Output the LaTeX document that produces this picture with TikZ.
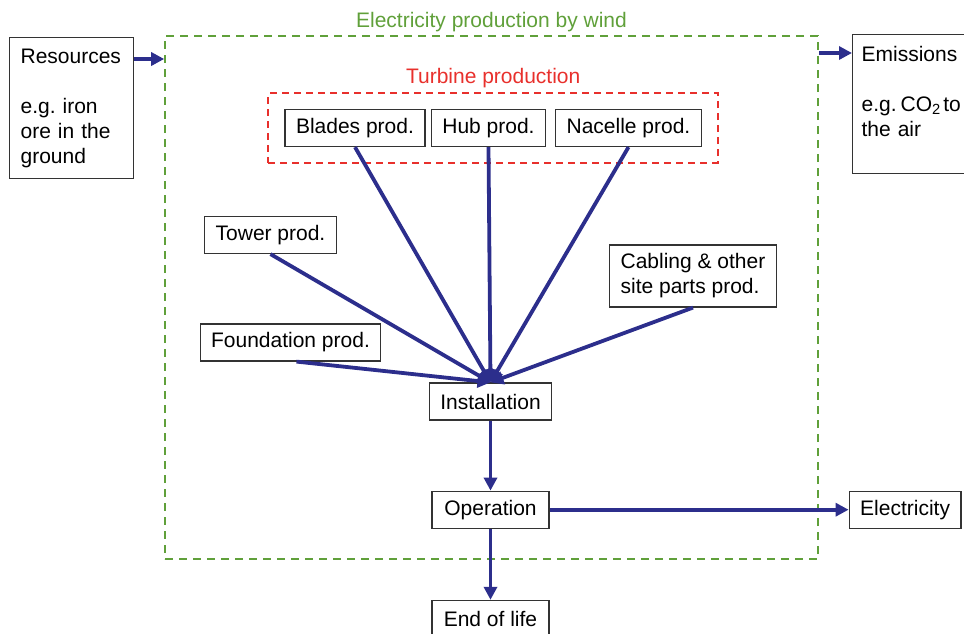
\documentclass[tikz,border=0pt]{standalone}
\usepackage{fontspec}
\setmainfont{Liberation Sans}
\usetikzlibrary{positioning,arrows.meta,fit}
\definecolor{flowblue}{RGB}{44,46,140}
\definecolor{windgreen}{RGB}{96,160,58}
\definecolor{turbred}{RGB}{232,48,44}

\begin{document}
\begin{tikzpicture}[
      x=0.5pt, y=-0.5pt,
      font=\fontsize{10.5}{12.5}\selectfont,
      stage/.style={draw=black!80, line width=0.6pt, fill=white,
                    minimum height=18.5pt, inner xsep=5.5pt, inner ysep=2pt},
      flowbox/.style={stage, align=left, text width=51pt, inner sep=5.5pt,
                      anchor=north west},
      wind/.style={draw=windgreen, line width=0.8pt, dash pattern=on 4pt off 3pt},
      turb/.style={draw=turbred, line width=1pt, dash pattern=on 3.5pt off 2.5pt},
      flow/.style={-{Triangle[length=6.5pt,width=6.5pt]}, line width=1.9pt, flowblue}
    ]
    \useasboundingbox (0,0) rectangle (964,633);

    \node[wind, minimum width=326.5pt, minimum height=261.5pt,
          label={[text=windgreen, yshift=-2pt]above:Electricity production by wind}]
          (windsys) at (491.5,297.5) {};

    \node[flowbox, minimum height=70.5pt] (res) at (9,37)
      {Resources\\[12.5pt]e.g.\ iron\\ore in the\\ground};
    \node[flowbox, minimum height=69.5pt, text width=62pt, inner xsep=4.5pt] (emis) at (852,34)
      {Emissions\\[12.5pt]e.g.\kern2pt CO\textsubscript{2}\kern1pt to\\the air\\\mbox{}};

    \node[stage] (blades) at (355,128) {Blades prod.};
    \node[stage] (hub) at (488.5,128) {Hub prod.};
    \node[stage] (nacelle) at (628.5,128) {Nacelle prod.};
    \node[turb, fit=(blades)(hub)(nacelle), inner xsep=8pt, inner ysep=7.75pt,
          label={[text=turbred, yshift=-1.5pt]above:Turbine production}] (turbine) {};

    \node[stage] (tower) at (270.5,235) {Tower prod.};
    \node[stage, align=left, minimum height=31pt] (cabling) at (693,276)
      {Cabling \& other\\site parts prod.};
    \node[stage] (found) at (290.5,342.5) {Foundation prod.};

    \node[stage] (inst) at (490.5,401.5) {Installation};
    \node[stage, minimum width=58.5pt, below=35pt of inst] (oper) {Operation};
    \node[stage, minimum width=58.5pt, below=35.5pt of oper] (eol) {End of life};
    \node[stage, right=149.5pt of oper] (elec) {Electricity};

    \foreach \x in {blades, hub, nacelle, tower, cabling}
      {\draw[flow] (\x.south) -- (inst.north);}
    \draw[flow] ([xshift=3pt]found.south) -- (inst.north);

    \foreach \x/\y in {inst/oper, oper/eol, oper/elec} {\draw[flow] (\x) -- (\y);}

    \coordinate (resout) at ([yshift=-11pt]res.north east);
    \draw[flow] (resout) -- (resout -| windsys.west);
    \coordinate (emisin) at ([yshift=-9.5pt]emis.north west);
    \draw[flow] (emisin -| windsys.east) -- (emisin);
  \end{tikzpicture}
\end{document}
